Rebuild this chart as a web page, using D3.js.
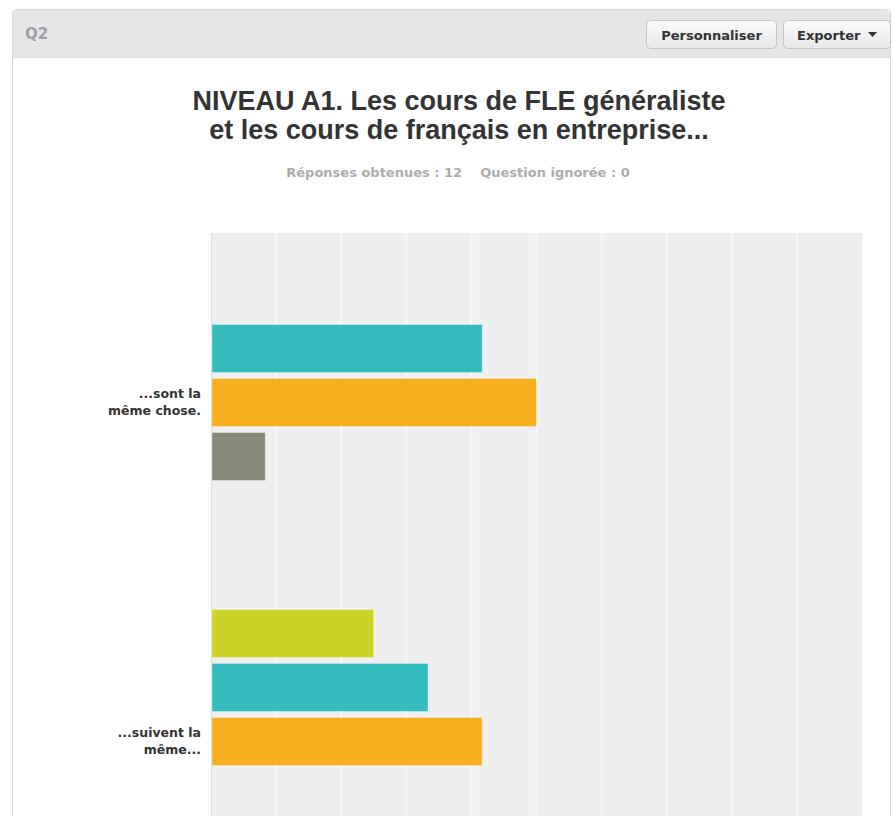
<!DOCTYPE html>
<html>
<head>
<meta charset="utf-8">
<script src="https://cdn.jsdelivr.net/npm/d3@7"></script>
<style>
  html, body { margin: 0; padding: 0; background: #fff; overflow: hidden; }
  svg { display: block; font-family: "DejaVu Sans", Verdana, sans-serif; }
</style>
</head>
<body>
<svg></svg>
<script>
// answer choices (rows) and the answer scale (series)
const categories = [['...sont la', 'même chose.'], ['...suivent la', 'même...']];
const seriesKeys = ['r1', 'r2', 'r3', 'r4', 'r5'];
const seriesColors = ['#cdd326', '#33bdbf', '#f6af1f', '#89897a', '#e4702a'];
const respondents = 12;
const skipped = 0;
// counts per series, one array per row
const countsSont = [0, 5, 6, 1, 0];
const countsSuivent = [3, 4, 5, 0, 0];
const xTicks = [10, 20, 30, 40, 50, 60, 70, 80, 90];

const rows = [countsSont, countsSuivent].map((c, i) => ({
  label: categories[i],
  values: c.map((v, j) => ({ key: seriesKeys[j], pct: v / respondents * 100 }))
}));

const [svgWidth, svgHeight] = [893, 816];
const svg = d3.select('svg')
  .attr('width', svgWidth)
  .attr('height', svgHeight);

// panel + header
svg.append('rect')
  .attr('x', 12.5).attr('y', 9.5)
  .attr('width', 878).attr('height', 900)
  .attr('rx', 4)
  .attr('fill', '#fff')
  .attr('stroke', '#d9d9d9');
svg.append('path')
  .attr('d', 'M13,57 V14 Q13,10 17,10 H886 Q890,10 890,14 V57 Z')
  .attr('fill', '#e6e6e6');
svg.append('line')
  .attr('x1', 13).attr('x2', 890)
  .attr('y1', 57.5).attr('y2', 57.5)
  .attr('stroke', '#dcdcdc');
svg.append('text')
  .attr('x', 25).attr('y', 39)
  .attr('font-size', 15).attr('font-weight', 'bold')
  .attr('fill', '#9ea0a4')
  .text('Q2');

const defs = svg.append('defs');
const grad = defs.append('linearGradient')
  .attr('id', 'btn').attr('x1', 0).attr('x2', 0).attr('y1', 0).attr('y2', 1);
grad.append('stop').attr('offset', '0%').attr('stop-color', '#fbfbfb');
grad.append('stop').attr('offset', '100%').attr('stop-color', '#e8e8e8');

const buttons = [
  { label: 'Personnaliser', x: 646, w: 130 },
  { label: 'Exporter', x: 783, w: 107 }
];
const btn = svg.selectAll('g.btn')
  .data(buttons)
  .enter().append('g')
  .attr('class', 'btn')
  .attr('transform', d => `translate(${d.x}, 20)`);
btn.append('rect')
  .attr('x', 0.5).attr('y', 0.5)
  .attr('width', d => d.w).attr('height', 28)
  .attr('rx', 4)
  .attr('fill', 'url(#btn)')
  .attr('stroke', '#c6c6c6');
btn.append('text')
  .attr('x', (d, i) => i === 0 ? d.w / 2 + 0.5 : 14)
  .attr('y', 19.5)
  .attr('text-anchor', (d, i) => i === 0 ? 'middle' : 'start')
  .attr('font-size', 13).attr('font-weight', 'bold')
  .attr('fill', '#333')
  .text(d => d.label);
svg.append('path')
  .attr('d', 'M868,32 h9 l-4.5,5 z')
  .attr('fill', '#333');

// title
const title = svg.append('text')
  .attr('text-anchor', 'middle')
  .attr('font-family', '"Liberation Sans", Arial, sans-serif')
  .attr('font-size', 27).attr('font-weight', 'bold')
  .attr('fill', '#333');
title.append('tspan').attr('x', 459).attr('y', 110)
  .text('NIVEAU A1. Les cours de FLE généraliste');
title.append('tspan').attr('x', 459).attr('y', 139)
  .text('et les cours de français en entreprise...');

svg.append('text')
  .attr('x', 458).attr('y', 177)
  .attr('text-anchor', 'middle')
  .attr('font-size', 13).attr('font-weight', 'bold')
  .attr('fill', '#acacac')
  .attr('xml:space', 'preserve')
  .text(`Réponses obtenues : ${respondents}    Question ignorée : ${skipped}`);

// plot
const plotTop = 233;
const x = d3.scaleLinear()
  .domain([0, 100])
  .range([211, 862]);
const y0 = d3.scaleBand()
  .domain(rows.map((d, i) => i))
  .range([plotTop, plotTop + 678])
  .paddingInner(0.221)
  .paddingOuter(0.1105);
const y1 = d3.scaleBand()
  .domain(seriesKeys)
  .range([0, y0.bandwidth()])
  .paddingInner(0.111);
const color = d3.scaleOrdinal()
  .domain(seriesKeys)
  .range(seriesColors);

svg.append('rect')
  .attr('x', x(0)).attr('y', plotTop)
  .attr('width', x(100) - x(0)).attr('height', 700)
  .attr('fill', '#efefef');

svg.append('g')
  .selectAll('line')
  .data(xTicks)
  .enter().append('line')
  .attr('x1', d => x(d)).attr('x2', d => x(d))
  .attr('y1', plotTop).attr('y2', plotTop + 700)
  .attr('stroke', '#f8f8f8')
  .attr('stroke-width', 2);

svg.append('line')
  .attr('x1', x(0) + 0.5).attr('x2', x(0) + 0.5)
  .attr('y1', plotTop).attr('y2', plotTop + 700)
  .attr('stroke', '#dcdcdc');

const group = svg.selectAll('g.row')
  .data(rows)
  .enter().append('g')
  .attr('class', 'row')
  .attr('transform', (d, i) => `translate(0, ${y0(i)})`);

group.selectAll('rect')
  .data(d => d.values.filter(v => v.pct > 0))
  .enter().append('rect')
  .attr('x', x(0) + 1)
  .attr('y', d => y1(d.key))
  .attr('width', d => x(d.pct) - x(0) - 1)
  .attr('height', y1.bandwidth())
  .attr('fill', d => color(d.key))
  .attr('stroke', 'rgba(255,255,255,0.35)');

const label = group.append('text')
  .attr('text-anchor', 'end')
  .attr('font-size', 12.5).attr('font-weight', 'bold')
  .attr('fill', '#333');
label.selectAll('tspan')
  .data(d => d.label)
  .enter().append('tspan')
  .attr('x', 201)
  .attr('y', (d, i) => y0.bandwidth() / 2 - 4.5 + i * 17)
  .text(d => d);
</script>
</body>
</html>
